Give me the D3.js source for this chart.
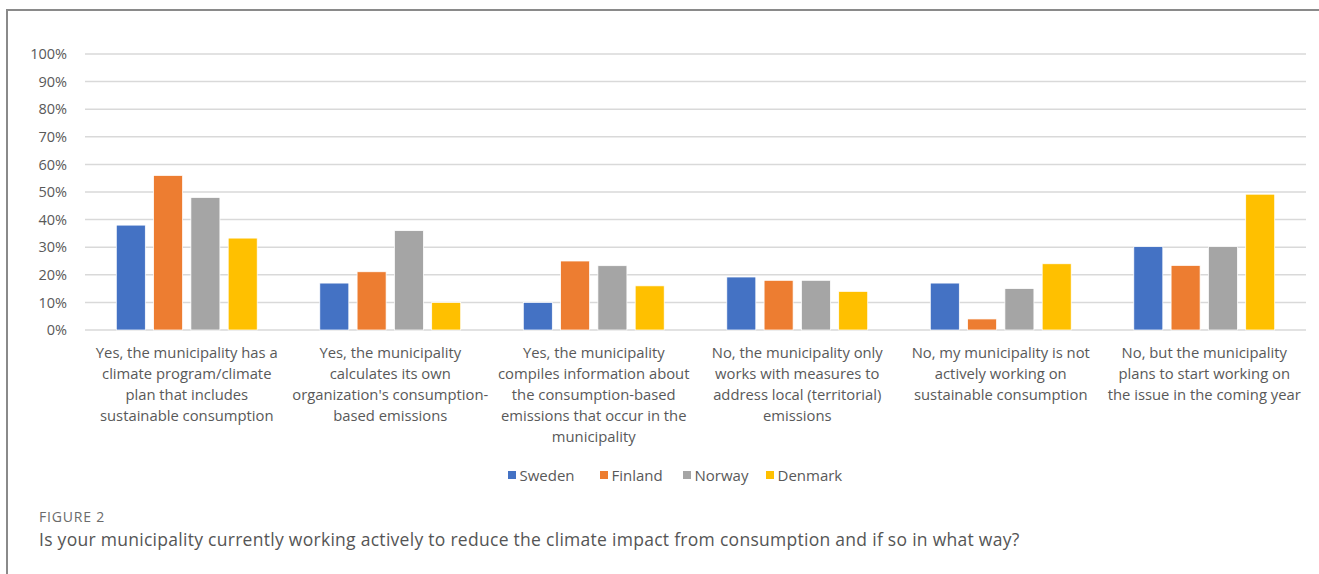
<!DOCTYPE html>
<html>
<head>
<meta charset="utf-8">
<script src="https://cdn.jsdelivr.net/npm/d3@7/dist/d3.min.js"></script>
<style>
  html, body { margin: 0; padding: 0; background: #fff; }
  svg { display: block; font-family: "Open Sans", "Noto Sans", sans-serif; }
</style>
</head>
<body>
<svg id="chart" width="1319" height="574"></svg>
<script>
// Survey answers (one entry per response option; "\n" marks a line break)
const categories = [
  "Yes, the municipality has a\nclimate program/climate\nplan that includes\nsustainable consumption",
  "Yes, the municipality\ncalculates its own\norganization's consumption-\nbased emissions",
  "Yes, the municipality\ncompiles information about\nthe consumption-based\nemissions that occur in the\nmunicipality",
  "No, the municipality only\nworks with measures to\naddress local (territorial)\nemissions",
  "No, my municipality is not\nactively working on\nsustainable consumption",
  "No, but the municipality\nplans to start working on\nthe issue in the coming year"
];

const countries = ["Sweden", "Finland", "Norway", "Denmark"];

// Share of municipalities (%) per answer, by country
const sweden  = [38, 17, 10, 19.2, 17, 30.2];
const finland = [56, 21.1, 25, 18, 4, 23.4];
const norway  = [48, 36, 23.3, 18, 15, 30.2];
const denmark = [33.3, 10, 16, 14, 24, 49.2];

const yTicks = [0, 10, 20, 30, 40, 50, 60, 70, 80, 90, 100];

const colors = ["#4472c4", "#ed7d31", "#a5a5a5", "#ffc000"];

const seriesValues = [sweden, finland, norway, denmark];
const rows = categories.map((c, i) => ({
  category: c,
  values: countries.map((k, j) => ({ country: k, value: seriesValues[j][i] }))
}));

const svg = d3.select("#chart");

// Figure frame (top and left rules)
svg.append("path")
  .attr("d", "M7,574 L7,10 L1319,10")
  .attr("fill", "none")
  .attr("stroke", "#8a8a8a")
  .attr("stroke-width", 2);

const plot = { left: 85, right: 1306, top: 54, bottom: 330 };

const x0 = d3.scaleBand()
  .domain(categories)
  .range([plot.left, plot.right])
  .paddingInner(0)
  .paddingOuter(0);

const x1 = d3.scaleBand()
  .domain(countries)
  .range([0, x0.bandwidth()])
  .paddingInner(0.222)
  .paddingOuter(0.839);

const y = d3.scaleLinear()
  .domain([0, 100])
  .range([plot.bottom, plot.top]);

const color = d3.scaleOrdinal().domain(countries).range(colors);

// Horizontal gridlines
svg.append("g")
  .selectAll("line")
  .data(yTicks)
  .join("line")
  .attr("x1", plot.left)
  .attr("x2", plot.right)
  .attr("y1", d => y(d))
  .attr("y2", d => y(d))
  .attr("stroke", "#d9d9d9")
  .attr("stroke-width", 1.5);

// Y axis labels
const yAxis = d3.axisLeft(y)
  .tickValues(yTicks)
  .tickFormat(d => d + "%")
  .tickSize(0)
  .tickPadding(0);

svg.append("g")
  .attr("transform", `translate(${plot.left - 18},0)`)
  .call(yAxis)
  .call(g => g.select(".domain").remove())
  .call(g => g.selectAll("text")
    .attr("fill", "#595959")
    .attr("font-size", 14.5)
    .attr("font-family", "'Open Sans', sans-serif"));

// Bars
const groups = svg.append("g")
  .selectAll("g")
  .data(rows)
  .join("g")
  .attr("transform", d => `translate(${x0(d.category)},0)`);

groups.selectAll("rect")
  .data(d => d.values)
  .join("rect")
  .attr("x", d => x1(d.country))
  .attr("width", x1.bandwidth())
  .attr("y", d => y(d.value))
  .attr("height", d => y(0) - y(d.value))
  .attr("fill", d => color(d.country))
  .attr("stroke", "#fff")
  .attr("stroke-width", 0.75);

// Category labels (multi-line, centred under each group)
const xAxis = d3.axisBottom(x0).tickSize(0).tickFormat("");
svg.append("g")
  .attr("transform", `translate(0,${plot.bottom})`)
  .call(xAxis)
  .call(g => g.select(".domain").remove());

const labels = svg.append("g")
  .selectAll("text")
  .data(categories)
  .join("text")
  .attr("x", d => x0(d) + x0.bandwidth() / 2)
  .attr("y", 357.5)
  .attr("text-anchor", "middle")
  .attr("fill", "#595959")
  .attr("font-size", 14.8);

labels.selectAll("tspan")
  .data(d => d.split("\n"))
  .join("tspan")
  .attr("x", function () { return d3.select(this.parentNode).attr("x"); })
  .attr("dy", (d, i) => i === 0 ? 0 : 21.2)
  .text(d => d);

// Legend
const legendItems = [
  { name: "Sweden", x: 508 },
  { name: "Finland", x: 600 },
  { name: "Norway", x: 683 },
  { name: "Denmark", x: 766 }
];

const legend = svg.append("g")
  .selectAll("g")
  .data(legendItems)
  .join("g")
  .attr("transform", d => `translate(${d.x},475)`);

legend.append("rect")
  .attr("x", 0)
  .attr("y", -4)
  .attr("width", 8)
  .attr("height", 8)
  .attr("fill", d => color(d.name));

legend.append("text")
  .attr("x", 11.5)
  .attr("y", 5.5)
  .attr("fill", "#595959")
  .attr("font-size", 15)
  .text(d => d.name);

// Caption
svg.append("text")
  .attr("x", 39)
  .attr("y", 522)
  .attr("fill", "#6b6b6b")
  .attr("font-size", 14)
  .attr("letter-spacing", 0.8)
  .text("FIGURE 2");

svg.append("text")
  .attr("x", 39)
  .attr("y", 546)
  .attr("fill", "#555")
  .attr("font-size", 17.5)
  .attr("letter-spacing", 0.28)
  .text("Is your municipality currently working actively to reduce the climate impact from consumption and if so in what way?");
</script>
</body>
</html>
